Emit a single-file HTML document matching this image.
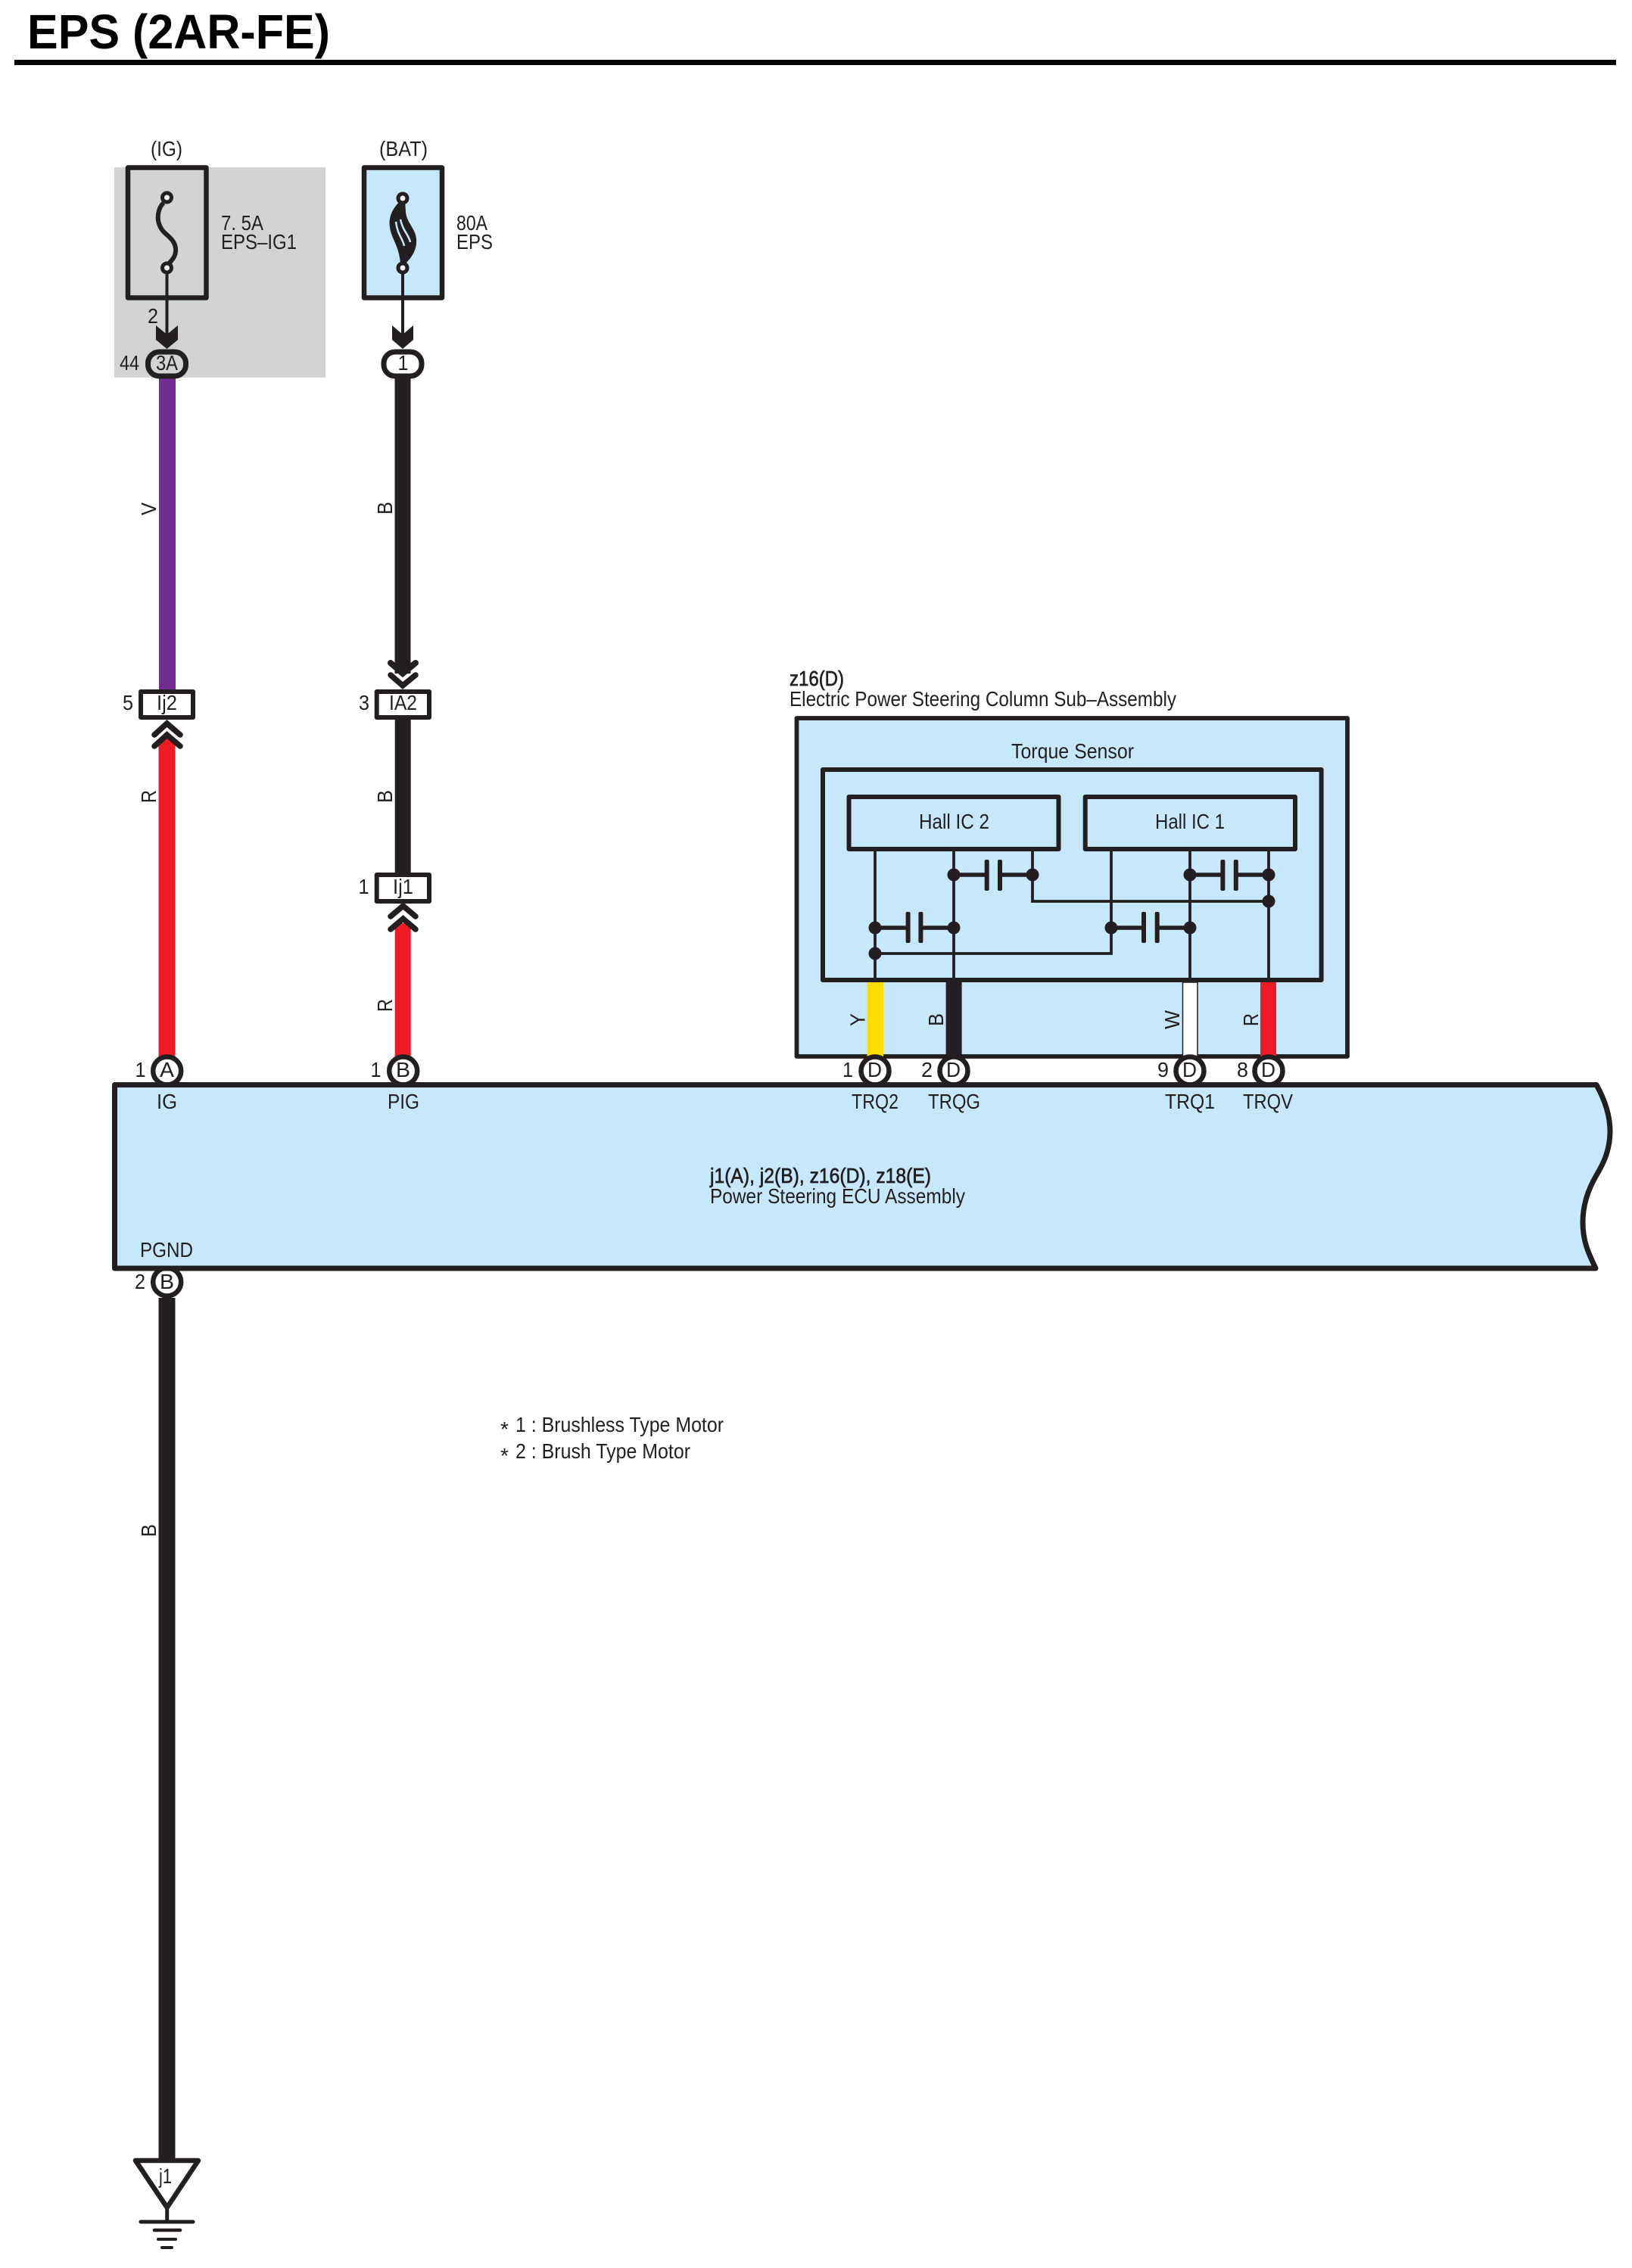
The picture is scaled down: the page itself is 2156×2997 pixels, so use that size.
<!DOCTYPE html>
<html>
<head>
<meta charset="utf-8">
<title>EPS (2AR-FE)</title>
<style>
html,body{margin:0;padding:0;background:#fff}
svg{display:block}
text{font-family:"Liberation Sans",Arial,sans-serif;font-size:28px;fill:#231f20}
.m{stroke:#231f20;stroke-width:.7px}
</style>
</head>
<body>
<svg xmlns="http://www.w3.org/2000/svg" width="2156" height="2997" viewBox="0 0 2156 2997">
<rect width="2156" height="2997" fill="#fff"/>

<!-- title -->
<text x="36" y="64" textLength="400" lengthAdjust="spacingAndGlyphs" style="font-size:64px;font-weight:bold;fill:#000">EPS (2AR-FE)</text>
<rect x="19" y="79" width="2116" height="7" fill="#000"/>

<!-- gray area -->
<rect x="151" y="221" width="279" height="278" fill="#d1d3d4"/>

<text x="199" y="206" textLength="42" lengthAdjust="spacingAndGlyphs">(IG)</text>
<text x="501" y="206" textLength="64" lengthAdjust="spacingAndGlyphs">(BAT)</text>

<!-- fuses -->
<rect x="169" y="221.5" width="103.500" height="172" fill="none" stroke="#231f20" stroke-width="6.500" stroke-linejoin="round"/>
<rect x="481" y="221.5" width="103" height="172" fill="#c7e8fa" stroke="#231f20" stroke-width="6.500" stroke-linejoin="round"/>
<path d="M216 268C208 276 207 290 211 298C215 310 230 313 232 328C233 340 226 344 222 350" fill="none" stroke="#231f20" stroke-width="6"/>
<path d="M531 264C518 274 513 288 515 300C517 316 527 324 529 348L536 348C544 340 551 330 550 316C549 302 537 294 536 280L535 264Z" fill="#231f20"/>
<path d="M523 293C525 310 532 315 534 325M529 290C532 305 540 310 542 320" fill="none" stroke="#c7e8fa" stroke-width="2.500"/>
<g fill="#f2f2f2" stroke="#231f20" stroke-width="5">
<circle cx="220.500" cy="261" r="6"/>
<circle cx="220.500" cy="354" r="6"/>
<circle cx="532" cy="262" r="6"/>
<circle cx="532" cy="354" r="6"/>
</g>
<path d="M220.500 360V450M532 360V450" stroke="#231f20" stroke-width="4" fill="none"/>
<path d="M206 430L220.500 442L235 430V449L220.500 461L206 449Z" fill="#231f20"/>
<path d="M518 430L532 442L546 430V449L532 461L518 449Z" fill="#231f20"/>

<text x="292" y="304" textLength="56" lengthAdjust="spacingAndGlyphs">7. 5A</text>
<text x="292" y="329" textLength="100" lengthAdjust="spacingAndGlyphs">EPS–IG1</text>
<text x="603" y="304" textLength="41" lengthAdjust="spacingAndGlyphs">80A</text>
<text x="603" y="329" textLength="48" lengthAdjust="spacingAndGlyphs">EPS</text>
<text x="195" y="427" textLength="14" lengthAdjust="spacingAndGlyphs">2</text>
<text x="158" y="489" textLength="26" lengthAdjust="spacingAndGlyphs">44</text>

<!-- wires left -->
<rect x="210" y="498" width="22" height="416" fill="#702c91"/>
<rect x="521.500" y="498" width="21" height="392" fill="#231f20"/>
<rect x="209.500" y="976" width="22" height="420" fill="#ed1c24"/>
<rect x="521.700" y="948" width="21" height="208" fill="#231f20"/>
<rect x="521.700" y="1220" width="21" height="176" fill="#ed1c24"/>

<!-- top connectors -->
<rect x="195.500" y="465" width="50" height="32" rx="15" fill="#d1d3d4" stroke="#231f20" stroke-width="7"/>
<rect x="507" y="465" width="50" height="32" rx="15" fill="#fff" stroke="#231f20" stroke-width="7"/>
<text x="206" y="489" textLength="29" lengthAdjust="spacingAndGlyphs">3A</text>
<text x="525.500" y="489" textLength="14" lengthAdjust="spacingAndGlyphs">1</text>

<!-- chevrons -->
<g fill="none" stroke="#231f20" stroke-linecap="round" stroke-linejoin="miter">
<path d="M516 876L532 890L549 876" stroke-width="8"/>
<path d="M516 892L532 906L549 892" stroke-width="8" stroke="#fff"/>
<path d="M516 892L532 906L549 892" stroke-width="7.500"/>
<path d="M204 971L220.500 956L238 971" stroke-width="7.500"/>
<path d="M204 986L220.500 971L238 986" stroke-width="7.500"/>
<path d="M516 1211L532.500 1197L549 1211" stroke-width="7.500"/>
<path d="M516 1228L532.500 1214L549 1228" stroke-width="7.500"/>
</g>
<path d="M523 887L532 895L541 887V878L532 886L523 878Z" fill="#231f20"/>

<!-- inline boxes -->
<g fill="#fff" stroke="#231f20" stroke-width="6" stroke-linejoin="round">
<rect x="186" y="914" width="69" height="34"/>
<rect x="497.700" y="914" width="69.300" height="34"/>
<rect x="497.700" y="1156" width="69.300" height="35"/>
</g>
<text x="207" y="938" textLength="27" lengthAdjust="spacingAndGlyphs">Ij2</text>
<text x="514" y="938" textLength="37" lengthAdjust="spacingAndGlyphs">IA2</text>
<text x="519" y="1181" textLength="27" lengthAdjust="spacingAndGlyphs">Ij1</text>
<text x="162" y="938" textLength="14" lengthAdjust="spacingAndGlyphs">5</text>
<text x="474" y="938" textLength="14" lengthAdjust="spacingAndGlyphs">3</text>
<text x="473.500" y="1181" textLength="14" lengthAdjust="spacingAndGlyphs">1</text>

<!-- rotated wire labels -->
<text transform="translate(206 681) rotate(-90)" textLength="17" lengthAdjust="spacingAndGlyphs">V</text>
<text transform="translate(518 680) rotate(-90)" textLength="17" lengthAdjust="spacingAndGlyphs">B</text>
<text transform="translate(206 1061) rotate(-90)" textLength="17" lengthAdjust="spacingAndGlyphs">R</text>
<text transform="translate(518 1061) rotate(-90)" textLength="17" lengthAdjust="spacingAndGlyphs">B</text>
<text transform="translate(518 1337) rotate(-90)" textLength="17" lengthAdjust="spacingAndGlyphs">R</text>
<text transform="translate(206 2031) rotate(-90)" textLength="17" lengthAdjust="spacingAndGlyphs">B</text>

<!-- column sub-assembly -->
<text class="m" x="1043" y="906" textLength="72" lengthAdjust="spacingAndGlyphs">z16(D)</text>
<text x="1043" y="933" textLength="511" lengthAdjust="spacingAndGlyphs">Electric Power Steering Column Sub–Assembly</text>
<rect x="1052.500" y="949" width="727.500" height="447" fill="#c7e8fa" stroke="#231f20" stroke-width="5.800" stroke-linejoin="round"/>
<text x="1336" y="1002" textLength="162" lengthAdjust="spacingAndGlyphs">Torque Sensor</text>

<!-- sensor wires -->
<g fill="none" stroke="#231f20" stroke-width="3.800">
<path d="M1156 1122V1295M1260 1122V1295M1364 1122V1191H1676M1468 1122V1260H1156M1572 1122V1295M1676 1122V1295"/>
</g>
<g fill="none" stroke="#231f20" stroke-width="5.500">
<path d="M1260 1156H1304M1321 1156H1364M1572 1156H1615M1633 1156H1676M1156 1226H1200M1216 1226H1260M1468 1226H1511M1529 1226H1572"/>
</g>
<g fill="#231f20">
<rect x="1300.700" y="1136" width="6" height="41" rx="2"/><rect x="1318" y="1136" width="6" height="41" rx="2"/>
<rect x="1612.400" y="1136" width="6" height="41" rx="2"/><rect x="1629.800" y="1136" width="6" height="41" rx="2"/>
<rect x="1196.600" y="1205" width="6" height="41" rx="2"/><rect x="1213.400" y="1205" width="6" height="41" rx="2"/>
<rect x="1508" y="1205" width="6" height="41" rx="2"/><rect x="1525.700" y="1205" width="6" height="41" rx="2"/>
<circle cx="1260" cy="1156" r="8.500"/><circle cx="1364" cy="1156" r="8.500"/>
<circle cx="1572" cy="1156" r="8.500"/><circle cx="1676" cy="1156" r="8.500"/>
<circle cx="1676" cy="1191" r="8.500"/>
<circle cx="1156" cy="1226" r="8.500"/><circle cx="1260" cy="1226" r="8.500"/>
<circle cx="1468" cy="1226" r="8.500"/><circle cx="1572" cy="1226" r="8.500"/>
<circle cx="1156" cy="1260" r="8.500"/>
</g>

<rect x="1087" y="1017" width="658.600" height="278" fill="none" stroke="#231f20" stroke-width="6" stroke-linejoin="round"/>
<rect x="1121.500" y="1053" width="277" height="69" fill="#c7e8fa" stroke="#231f20" stroke-width="6" stroke-linejoin="round"/>
<rect x="1433.700" y="1053" width="277.300" height="69" fill="#c7e8fa" stroke="#231f20" stroke-width="6" stroke-linejoin="round"/>
<text x="1214" y="1095" textLength="93" lengthAdjust="spacingAndGlyphs">Hall IC 2</text>
<text x="1526" y="1095" textLength="92" lengthAdjust="spacingAndGlyphs">Hall IC 1</text>

<rect x="1145.500" y="1298" width="21.500" height="98" fill="#ffdd00"/>
<rect x="1249.600" y="1298" width="21" height="98" fill="#231f20"/>
<rect x="1562.500" y="1298" width="19.500" height="98" fill="#fff" stroke="#231f20" stroke-width="1.500"/>
<rect x="1665" y="1298" width="21" height="98" fill="#ed1c24"/>
<text transform="translate(1142.500 1356) rotate(-90)" textLength="17" lengthAdjust="spacingAndGlyphs">Y</text>
<text transform="translate(1246 1356) rotate(-90)" textLength="17" lengthAdjust="spacingAndGlyphs">B</text>
<text transform="translate(1558 1360) rotate(-90)" textLength="25" lengthAdjust="spacingAndGlyphs">W</text>
<text transform="translate(1662 1356) rotate(-90)" textLength="17" lengthAdjust="spacingAndGlyphs">R</text>

<!-- round connectors -->
<g fill="#fff" stroke="#231f20" stroke-width="6.500">
<circle cx="220.700" cy="1415" r="18.500"/>
<circle cx="532.700" cy="1415" r="18.500"/>
<circle cx="1156" cy="1415" r="18.500"/>
<circle cx="1260" cy="1415" r="18.500"/>
<circle cx="1572" cy="1415" r="18.500"/>
<circle cx="1676" cy="1415" r="18.500"/>
<circle cx="220.700" cy="1694" r="18.500"/>
</g>

<!-- main ECU -->
<path d="M151.500 1433.500H2109C2121 1455 2127 1475 2127 1495C2127 1520 2118 1538 2109 1553C2099 1570 2091 1590 2091 1615C2091 1640 2098 1655 2108 1676H151.500Z" fill="#c7e8fa" stroke="#231f20" stroke-width="7" stroke-linejoin="round"/>

<text x="211" y="1423" textLength="19" lengthAdjust="spacingAndGlyphs">A</text>
<text x="523" y="1423" textLength="19" lengthAdjust="spacingAndGlyphs">B</text>
<text x="1146" y="1423" textLength="19" lengthAdjust="spacingAndGlyphs">D</text>
<text x="1250" y="1423" textLength="19" lengthAdjust="spacingAndGlyphs">D</text>
<text x="1562" y="1423" textLength="19" lengthAdjust="spacingAndGlyphs">D</text>
<text x="1666" y="1423" textLength="19" lengthAdjust="spacingAndGlyphs">D</text>
<text x="211" y="1703" textLength="19" lengthAdjust="spacingAndGlyphs">B</text>

<text x="178.500" y="1423" textLength="14" lengthAdjust="spacingAndGlyphs">1</text>
<text x="489.500" y="1423" textLength="14" lengthAdjust="spacingAndGlyphs">1</text>
<text x="1113" y="1423" textLength="14" lengthAdjust="spacingAndGlyphs">1</text>
<text x="1217" y="1423" textLength="15" lengthAdjust="spacingAndGlyphs">2</text>
<text x="1529" y="1423" textLength="15" lengthAdjust="spacingAndGlyphs">9</text>
<text x="1634" y="1423" textLength="15" lengthAdjust="spacingAndGlyphs">8</text>
<text x="178" y="1703" textLength="14" lengthAdjust="spacingAndGlyphs">2</text>

<text x="207" y="1465" textLength="27" lengthAdjust="spacingAndGlyphs">IG</text>
<text x="512" y="1465" textLength="42" lengthAdjust="spacingAndGlyphs">PIG</text>
<text x="1125" y="1465" textLength="62" lengthAdjust="spacingAndGlyphs">TRQ2</text>
<text x="1226" y="1465" textLength="69" lengthAdjust="spacingAndGlyphs">TRQG</text>
<text x="1539" y="1465" textLength="66" lengthAdjust="spacingAndGlyphs">TRQ1</text>
<text x="1642" y="1465" textLength="66" lengthAdjust="spacingAndGlyphs">TRQV</text>

<text class="m" x="938" y="1563" textLength="292" lengthAdjust="spacingAndGlyphs">j1(A), j2(B), z16(D), z18(E)</text>
<text x="938" y="1590" textLength="337" lengthAdjust="spacingAndGlyphs">Power Steering ECU Assembly</text>
<text x="185" y="1661" textLength="70" lengthAdjust="spacingAndGlyphs">PGND</text>

<!-- notes -->
<text x="661" y="1898" textLength="11" lengthAdjust="spacingAndGlyphs">*</text>
<text x="681" y="1892" textLength="275" lengthAdjust="spacingAndGlyphs">1 : Brushless Type Motor</text>
<text x="661" y="1933" textLength="11" lengthAdjust="spacingAndGlyphs">*</text>
<text x="681" y="1927" textLength="231" lengthAdjust="spacingAndGlyphs">2 : Brush Type Motor</text>

<!-- ground wire -->
<rect x="209.500" y="1715" width="22" height="1140" fill="#231f20"/>
<path d="M179 2855H262L220.700 2917Z" fill="#fff" stroke="#231f20" stroke-width="6.500" stroke-linejoin="round"/>
<text x="210" y="2885" textLength="17" lengthAdjust="spacingAndGlyphs">j1</text>
<path d="M220.700 2915V2936" stroke="#231f20" stroke-width="5"/>
<g stroke="#231f20" stroke-linecap="round" fill="none">
<path d="M186 2936H255" stroke-width="5"/>
<path d="M204 2947H238" stroke-width="4.500"/>
<path d="M209 2959H232" stroke-width="4"/>
<path d="M214 2970H227" stroke-width="4"/>
</g>
</svg>
</body>
</html>
